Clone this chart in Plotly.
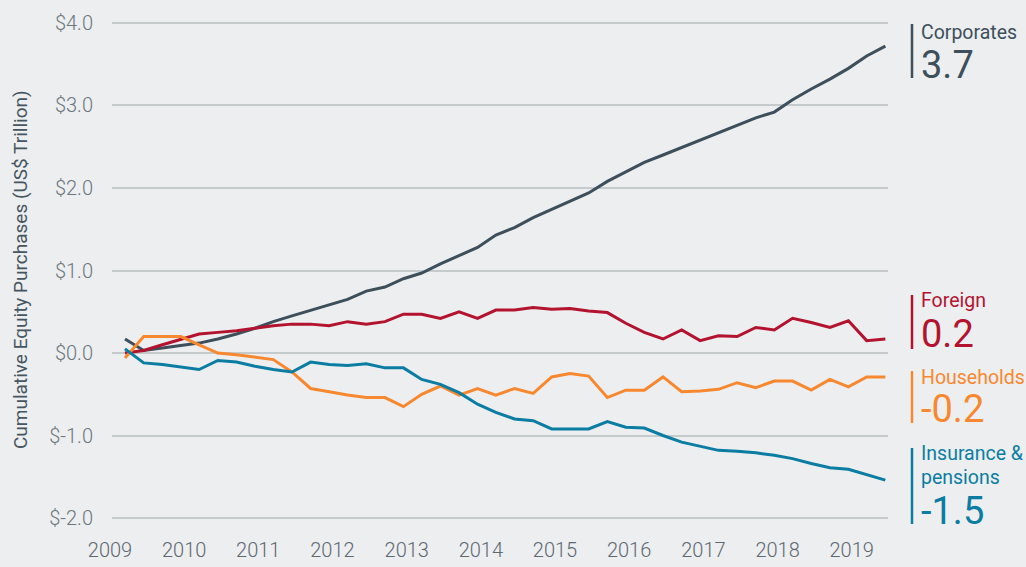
import pandas as pd
import plotly.graph_objects as go

# ---- data (US$ trillion, quarterly) ----
quarters = pd.date_range("2009-03-01", periods=42, freq="QS-MAR").strftime("%Y-%m-%d").tolist()

corporates = [0.17, 0.03, 0.06, 0.09, 0.12, 0.17, 0.23, 0.30, 0.38, 0.45,
              0.52, 0.59, 0.65, 0.75, 0.80, 0.90, 0.97, 1.08, 1.18, 1.28,
              1.43, 1.52, 1.64, 1.74, 1.84, 1.94, 2.08, 2.20, 2.31, 2.40,
              2.49, 2.58, 2.67, 2.76, 2.85, 2.92, 3.07, 3.20, 3.32, 3.45,
              3.60, 3.72]
foreign = [0.00, 0.03, 0.10, 0.17, 0.23, 0.25, 0.27, 0.30, 0.33, 0.35,
           0.35, 0.33, 0.38, 0.35, 0.38, 0.47, 0.47, 0.42, 0.50, 0.42,
           0.52, 0.52, 0.55, 0.53, 0.54, 0.51, 0.49, 0.36, 0.25, 0.17,
           0.28, 0.15, 0.21, 0.20, 0.31, 0.28, 0.42, 0.37, 0.31, 0.39,
           0.15, 0.17]
households = [-0.06, 0.20, 0.20, 0.20, 0.10, 0.00, -0.02, -0.05, -0.08, -0.23,
              -0.43, -0.47, -0.51, -0.54, -0.54, -0.65, -0.50, -0.40, -0.51, -0.43,
              -0.51, -0.43, -0.49, -0.29, -0.25, -0.28, -0.54, -0.45, -0.45, -0.29,
              -0.47, -0.46, -0.44, -0.36, -0.42, -0.34, -0.34, -0.45, -0.32, -0.41,
              -0.29, -0.29]
insurance = [0.05, -0.12, -0.14, -0.17, -0.20, -0.09, -0.11, -0.16, -0.20, -0.23,
             -0.11, -0.14, -0.15, -0.13, -0.18, -0.18, -0.32, -0.38, -0.48, -0.62,
             -0.72, -0.80, -0.82, -0.92, -0.92, -0.92, -0.83, -0.90, -0.91, -1.00,
             -1.08, -1.13, -1.18, -1.19, -1.21, -1.24, -1.28, -1.34, -1.39, -1.41,
             -1.47, -1.54]

series_names = ["Corporates", "Foreign", "Households", "Insurance & pensions"]
series_values = [corporates, foreign, households, insurance]
latest_labels = ["3.7", "0.2", "-0.2", "-1.5"]

year_ticks = [f"{y}-01-01" for y in range(2009, 2020)]
year_labels = [str(y) for y in range(2009, 2020)]
y_ticks = [-2, -1, 0, 1, 2, 3, 4]
y_labels = ["$-2.0", "$-1.0", "$0.0", "$1.0", "$2.0", "$3.0", "$4.0"]

# ---- styling ----
colors = ["#3d4f5b", "#b3132f", "#f7882f", "#0b7ca2"]
BG = "#eceef0"
FONT = "Roboto, 'Liberation Sans', Arial, sans-serif"

W, H = 1026, 567
ML, MR, MT, MB = 112, 138, 21, 47
PW, PH = W - ML - MR, H - MT - MB


def px_x(px):
    return (px - ML) / PW


def px_y(py):
    return (H - MB - py) / PH


fig = go.Figure()
for name, vals, col in zip(series_names, series_values, colors):
    fig.add_trace(go.Scatter(x=quarters, y=vals, mode="lines", name=name,
                             line=dict(color=col, width=3), hoverinfo="skip"))

fig.update_layout(
    width=W, height=H,
    margin=dict(l=ML, r=MR, t=MT, b=MB, pad=0, autoexpand=False),
    paper_bgcolor=BG, plot_bgcolor=BG,
    showlegend=False,
    font=dict(family=FONT, color="#6d767d"),
)

fig.update_xaxes(
    type="date", range=["2008-12-27", "2019-06-14"],
    tickvals=year_ticks, ticktext=year_labels,
    showgrid=False, zeroline=False, showline=False,
    ticks="outside", ticklen=12, tickcolor="rgba(0,0,0,0)",
    ticklabelshift=-3, automargin=False,
    tickfont=dict(size=20, color="#5e6870", family=FONT, weight=300),
)
fig.update_yaxes(
    range=[-2.024, 4.024],
    tickvals=y_ticks, ticktext=y_labels,
    showgrid=True, gridcolor="#c5cacd", gridwidth=1.5,
    zeroline=False, showline=False, automargin=False,
    ticks="outside", ticklen=14, tickcolor="rgba(0,0,0,0)",
    tickfont=dict(size=20, color="#6d767d", family=FONT, weight=300),
)

# y-axis title
fig.add_annotation(
    text="Cumulative Equity Purchases (US$ Trillion)",
    xref="paper", yref="paper", x=px_x(20), y=px_y(270),
    textangle=-90, showarrow=False, xanchor="center", yanchor="middle",
    font=dict(size=19, color="#46555f", family=FONT),
)

# right-hand labels
label_blocks = [
    (["Corporates"], 24, 78, [32], 65),
    (["Foreign"], 295, 349, [300], 334),
    (["Households"], 371, 423, [377], 409),
    (["Insurance &", "pensions"], 448, 524, [453, 477], 511),
]
bar_x = px_x(912)
text_x = px_x(920)
for (names, y0, y1, name_ys, val_y), col, val in zip(label_blocks, colors, latest_labels):
    fig.add_shape(type="line", xref="paper", yref="paper",
                  x0=bar_x, x1=bar_x, y0=px_y(y0), y1=px_y(y1),
                  line=dict(color=col, width=2.5))
    for nm, ny in zip(names, name_ys):
        fig.add_annotation(text=nm, xref="paper", yref="paper",
                           x=text_x, y=px_y(ny), xanchor="left", yanchor="middle",
                           showarrow=False, borderpad=0,
                           font=dict(size=19.5, color=col, family=FONT))
    fig.add_annotation(text=val, xref="paper", yref="paper",
                       x=text_x, y=px_y(val_y), xanchor="left", yanchor="middle",
                       showarrow=False, borderpad=0,
                       font=dict(size=38, color=col, family=FONT))

fig.write_html("out.html")
